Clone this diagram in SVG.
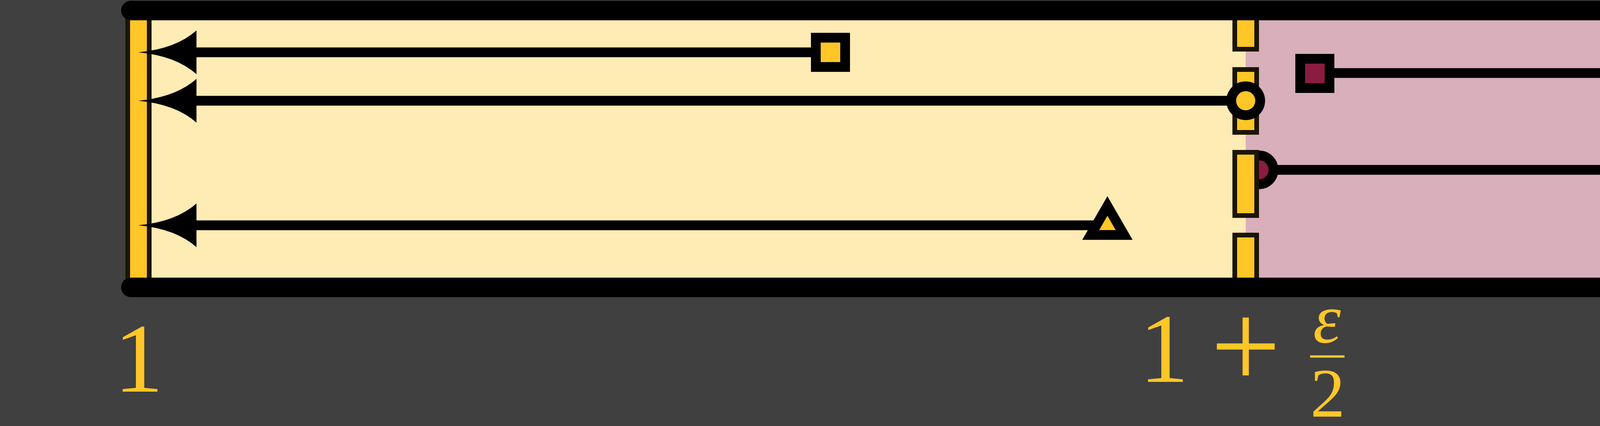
<svg xmlns="http://www.w3.org/2000/svg" xmlns:xlink="http://www.w3.org/1999/xlink" width="6378" height="1091" viewBox="0 0 6378 1091">
  <style>
    .bar-y{fill:#ffc627;stroke:#1b1505;stroke-width:12}
    .bar-m{fill:#8b1c41;stroke:#1b1505;stroke-width:12}
    .rail{stroke:#000;stroke-width:50;stroke-linecap:round;fill:none}
    .conn{stroke:#000;stroke-width:25;fill:none}
    .head{fill:#000}
    .n-y{fill:#ffc627;stroke:#000;stroke-width:25;stroke-linejoin:miter}
    .n-m{fill:#8b1c41;stroke:#000;stroke-width:25;stroke-linejoin:miter}
    .lbl{font-family:"Liberation Serif","Times New Roman",serif}
    .ly{fill:#ffc627}
    .lr{fill:#ff0000}
  </style>
  <defs>
    <path id="ah" d="M0,0 Q96,-9 149,-56 L149,56 Q96,9 0,0 Z"/>
  </defs>
  <rect x="0" y="0" width="6378" height="1091" fill="#404040"/>
  <g id="regions">
    <rect x="335" y="27" width="2854" height="709" fill="#ffebb4"/>
    <rect x="3189" y="27" width="2852" height="709" fill="#d8afba"/>
  </g>
  <g id="bar-left">
    <rect class="bar-y" x="327" y="27" width="55" height="709"/>
  </g>
  <g id="connectors">
    <line class="conn" x1="2126" y1="134" x2="500" y2="134"/>
    <line class="conn" x1="3189" y1="258" x2="500" y2="258"/>
    <line class="conn" x1="2835" y1="577" x2="500" y2="577"/>
    <line class="conn" x1="3366" y1="187" x2="5877" y2="187"/>
    <line class="conn" x1="3223" y1="435" x2="5877" y2="435"/>
    <line class="conn" x1="4252" y1="648" x2="5877" y2="648"/>
    <use class="head" xlink:href="#ah" href="#ah" x="354" y="134"/>
    <use class="head" xlink:href="#ah" href="#ah" x="354" y="258"/>
    <use class="head" xlink:href="#ah" href="#ah" x="354" y="577"/>
    <use class="head" xlink:href="#ah" href="#ah" transform="translate(6023,187) scale(-1,1)"/>
    <use class="head" xlink:href="#ah" href="#ah" transform="translate(6023,435) scale(-1,1)"/>
    <use class="head" xlink:href="#ah" href="#ah" transform="translate(6023,648) scale(-1,1)"/>
  </g>
  <g id="node-halfcircle">
    <circle class="n-m" cx="3223" cy="435" r="37" stroke-width="24"/>
  </g>
  <g id="bar-middle">
    <rect class="bar-y" x="3161" y="27" width="56" height="99"/>
    <rect class="bar-y" x="3161" y="178" width="56" height="161"/>
    <rect class="bar-y" x="3161" y="390" width="56" height="162"/>
    <rect class="bar-y" x="3161" y="602" width="56" height="134"/>
  </g>
  <g id="bar-right">
    <rect class="bar-m" x="5996" y="27" width="56" height="709"/>
  </g>
  <g id="rails">
    <line class="rail" x1="335" y1="27" x2="6041" y2="27"/>
    <line class="rail" x1="335" y1="736" x2="6041" y2="736"/>
  </g>
  <g id="node-circle">
    <circle class="n-y" cx="3189" cy="258" r="37" stroke-width="24"/>
  </g>
  <g id="node-square-yellow">
    <rect class="n-y" x="2088.5" y="96.5" width="75" height="75"/>
  </g>
  <g id="node-square-maroon">
    <rect class="n-m" x="3328.5" y="150.5" width="75" height="75"/>
  </g>
  <g id="node-triangle-yellow">
    <polygon class="n-y" points="2835,527.6 2792.2,601.7 2877.8,601.7"/>
  </g>
  <g id="node-triangle-maroon">
    <polygon class="n-m" points="4252,598.6 4209.2,672.7 4294.8,672.7"/>
  </g>
  <g id="label-left" class="lbl ly">
    <text x="355" y="1003" font-size="253" text-anchor="middle">1</text>
  </g>
  <g id="label-middle" class="lbl ly">
    <text x="2980" y="978" font-size="253" text-anchor="middle">1</text>
    <text x="3189" y="993" font-size="318" text-anchor="middle">+</text>
    <text x="3397" y="877" font-size="180" font-style="italic" text-anchor="middle">ε</text>
    <rect x="3354" y="910" width="88" height="6"/>
    <text x="3399" y="1067" font-size="178" text-anchor="middle">2</text>
  </g>
  <g id="label-right" class="lbl lr">
    <text x="5815" y="1003" font-size="253" text-anchor="middle">1</text>
    <text x="6024" y="1019" font-size="318" text-anchor="middle">+</text>
    <text x="6231" y="1005" font-size="260" font-style="italic" text-anchor="middle">ε</text>
  </g>
</svg>
